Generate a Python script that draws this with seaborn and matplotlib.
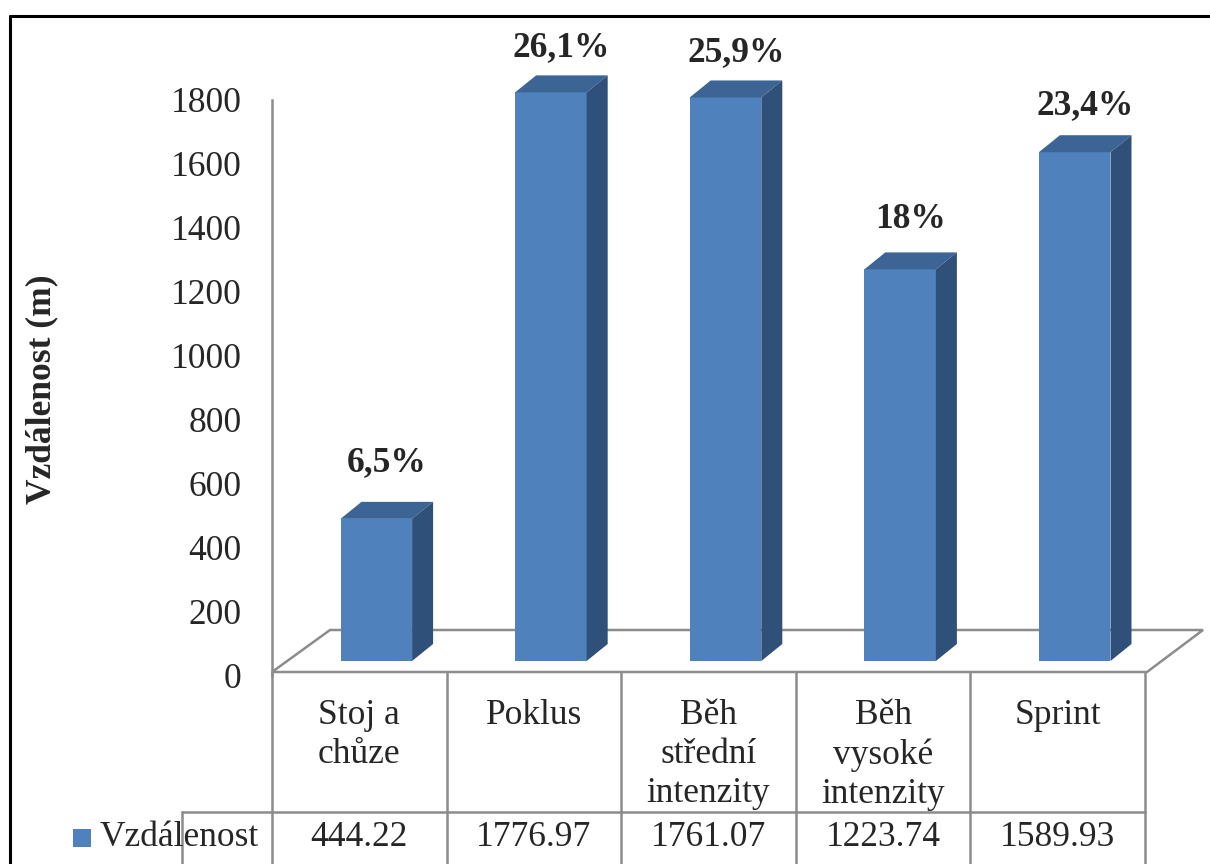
import numpy as np
import matplotlib
matplotlib.use('Agg')
import matplotlib.pyplot as plt
import seaborn as sns
from matplotlib.patches import Polygon, Rectangle
from matplotlib.lines import Line2D

# data
categories = ['Stoj a chůze', 'Poklus', 'Běh střední intenzity', 'Běh vysoké intenzity', 'Sprint']
table_labels = ['Stoj a\nchůze', 'Poklus', 'Běh\nstřední\nintenzity', 'Běh\nvysoké\nintenzity', 'Sprint']
distances = [444.22, 1776.97, 1761.07, 1223.74, 1589.93]
pct_labels = ['6,5%', '26,1%', '25,9%', '18%', '23,4%']
series_name = 'Vzdálenost'
y_ticks = [0, 200, 400, 600, 800, 1000, 1200, 1400, 1600, 1800]

sns.set_style('white')
plt.rcParams['font.family'] = ['Liberation Serif', 'DejaVu Serif']
FS = 25.5

W, H = 1210, 864
fig = plt.figure(figsize=(W / 100, H / 100), dpi=100)

def fx(px):
    return px / W

def fy(px):
    return (H - px) / H

# main 3d-looking column area: x -0.5..4.5 spans px 272..1145, y 0..1800 spans px 676..100
ax = fig.add_axes([fx(272), fy(676), fx(1145) - fx(272), fy(100) - fy(676)])
front = '#4F81BD'
top_col = '#3C6494'
side_col = '#2F5079'
sns.barplot(x=categories, y=distances, color=front, width=0.41, saturation=1, ax=ax, zorder=3)
ax.set_xlim(-0.5, 4.5)
ax.set_ylim(0, 1800)

px_per_x = 873 / 5.0
px_per_y = 576 / 1800.0
base = 15 / px_per_y          # front face bottom sits above the floor front edge
shift = 17 / px_per_x         # bars pushed back into the floor
dx = 21 / px_per_x            # depth of the columns
dy = 17 / px_per_y
# data labels follow a slightly flatter perspective scale than the columns
label_base = 75 / px_per_y
label_scale = 0.3114 / px_per_y

# floor parallelogram
floor = Polygon([(-0.5, 4 / px_per_y), (-0.5 + 58 / px_per_x, 46 / px_per_y),
                 (-0.5 + 931 / px_per_x, 46 / px_per_y), (4.5 + 2 / px_per_x, 4 / px_per_y)],
                closed=True, fill=False, edgecolor='#8C8C8C', lw=1.8, clip_on=False, zorder=1)
ax.add_patch(floor)

for i, (p, v) in enumerate(zip(ax.patches[:len(distances)], distances)):
    p.set_y(base)
    p.set_x(p.get_x() + shift)
    p.set_edgecolor('none')
    p.set_clip_on(False)
    x0 = p.get_x()
    x1 = x0 + p.get_width()
    t = base + v
    ax.add_patch(Polygon([(x0, t), (x0 + dx, t + dy), (x1 + dx, t + dy), (x1, t)],
                         closed=True, facecolor=top_col, edgecolor='none', clip_on=False, zorder=3))
    ax.add_patch(Polygon([(x1, base), (x1 + dx, base + dy), (x1 + dx, t + dy), (x1, t)],
                         closed=True, facecolor=side_col, edgecolor='none', clip_on=False, zorder=3))
    ax.text((x0 + x1 + dx) / 2, label_base + label_scale * v, pct_labels[i],
            ha='center', va='center', fontsize=FS, fontweight='bold', clip_on=False)

ax.set_yticks(y_ticks)
ax.set_yticklabels([str(t) for t in y_ticks], fontsize=FS)
ax.tick_params(axis='y', length=0, pad=22)
ax.set_xticks([])
ax.set_xlabel('')
for s in ['top', 'right', 'bottom']:
    ax.spines[s].set_visible(False)
ax.spines['left'].set_color('#8C8C8C')
ax.spines['left'].set_linewidth(1.8)
ax.set_facecolor('none')

fig.text(fx(42), fy(389), 'Vzdálenost (m)', rotation=90, ha='center', va='center',
         fontsize=FS, fontweight='bold')

# data table below the plot, sharing the category scale
tax = fig.add_axes([fx(272), 0, fx(1145) - fx(272), fy(672)], sharex=ax)
tax.set_ylim(0, 192)
tax.axis('off')
grid_kw = dict(color='#8C8C8C', lw=1.8, clip_on=False)
for b in np.arange(len(categories) + 1) - 0.5:
    tax.add_line(Line2D([b, b], [-5, 192], **grid_kw))
left_edge = -0.5 - 90 / px_per_x
tax.add_line(Line2D([left_edge, 4.5], [52, 52], **grid_kw))
tax.add_line(Line2D([left_edge, left_edge], [-5, 52], **grid_kw))
for i, lab in enumerate(table_labels):
    tax.text(i, 165, lab, ha='center', va='top', fontsize=FS, linespacing=1.25)
    tax.text(i, 26, f'{distances[i]:.2f}', ha='center', va='center', fontsize=FS)
tax.add_patch(Rectangle((-0.5 - 199 / px_per_x, 17), 18 / px_per_x, 18,
                        facecolor=front, edgecolor='none', clip_on=False))
tax.text(-0.5 - 172 / px_per_x, 26, series_name, ha='left', va='center', fontsize=FS)

# outer frame
fig.add_artist(Line2D([fx(10), fx(10)], [0, fy(16)], color='black', lw=2.2))
fig.add_artist(Line2D([fx(10), 1], [fy(16), fy(16)], color='black', lw=2.2))

fig.savefig('out.png', dpi=100)
